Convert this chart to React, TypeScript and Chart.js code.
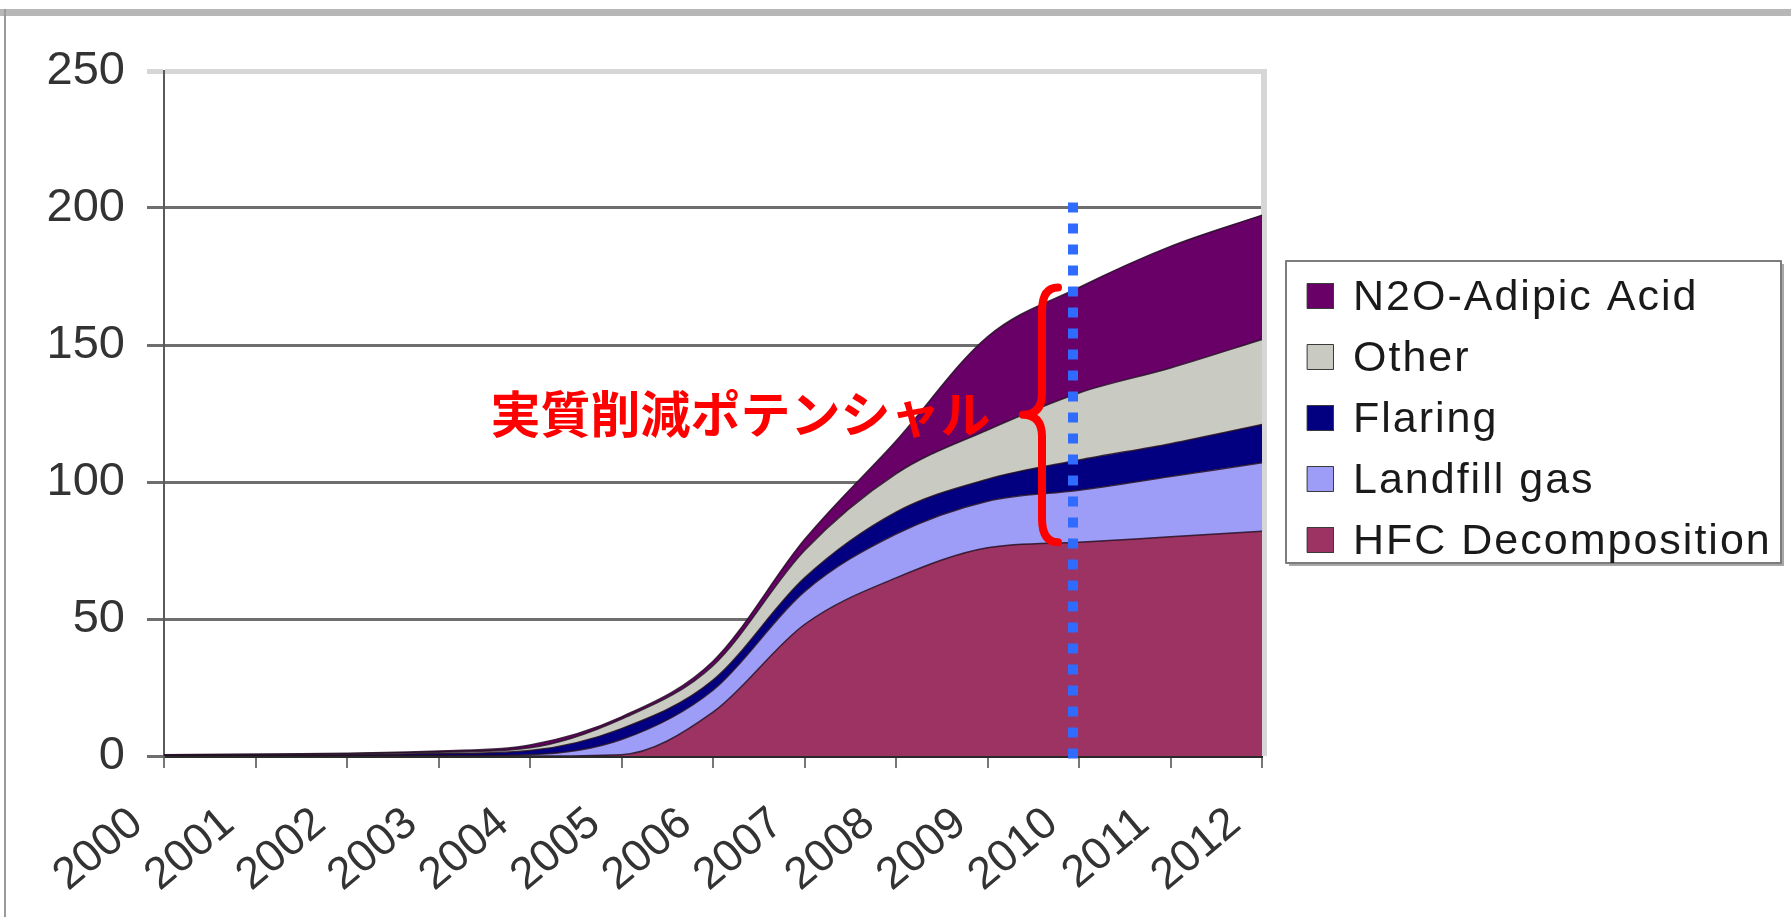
import React, { useEffect, useRef } from "react";
import { Chart, registerables } from "chart.js";

Chart.register(...registerables);

// Emission reduction volumes by project type, stacked from the bottom up.
const years = ["2000", "2001", "2002", "2003", "2004", "2005", "2006", "2007", "2008", "2009", "2010", "2011", "2012"];
const hfcDecomposition = [0, 0, 0, 0, 0, 0.5, 16, 48, 65, 76, 78, 80, 82];
const landfillGas = [0, 0, 0.1, 0.2, 0.5, 5.5, 8, 12, 16, 17, 19, 22, 25];
const flaring = [0.2, 0.3, 0.4, 0.7, 1.5, 4, 3.7, 5, 8, 8, 11, 12, 14];
const other = [0.1, 0.2, 0.3, 0.5, 1, 3.5, 5.3, 10, 14, 18, 24.5, 27.6, 31];
const n2oAdipicAcid = [0.2, 0.2, 0.2, 0.4, 1, 0.8, 1.6, 4, 12, 34, 38.5, 44.4, 45.4];

const seriesLabels = ["HFC Decomposition", "Landfill gas", "Flaring", "Other", "N2O-Adipic Acid"];
const seriesColors = ["#9c3363", "#9d9cf6", "#020080", "#c9cac2", "#680068"];
const seriesValues = [hfcDecomposition, landfillGas, flaring, other, n2oAdipicAcid];

const yMin = 0;
const yMax = 250;
const yStep = 50;

// Annotation: the year marked by the dotted line and the bracketed span
const markerYearIndex = 10;
const markerTopValue = 202;
const potentialLabel = "実質削減ポテンシャル";
const potentialLabelYearIndex = 6.3;
const potentialLabelValue = 125;

const W = 1791;
const H = 917;
const AREA = { left: 164, top: 71, right: 1262, bottom: 756 };
const FONT = '"Liberation Sans", Arial, Helvetica, sans-serif';

const decorPlugin = {
  id: "decor",
  beforeDraw(chart: any) {
    const ctx = chart.ctx;
    ctx.save();
    ctx.fillStyle = "#ffffff";
    ctx.fillRect(0, 0, W, H);
    // chart frame
    ctx.fillStyle = "#b7b7b7";
    ctx.fillRect(0, 9, W, 7);
    ctx.fillStyle = "#9a9a9a";
    ctx.fillRect(4, 9, 2, H - 9);
    ctx.restore();
  },
  beforeDatasetsDraw(chart: any) {
    const ctx = chart.ctx;
    const a = chart.chartArea;
    ctx.save();
    ctx.strokeStyle = "#d6d6d6";
    ctx.lineWidth = 6;
    ctx.beginPath();
    ctx.moveTo(a.right + 2, a.top - 2);
    ctx.lineTo(a.right + 2, a.bottom);
    ctx.stroke();
    ctx.restore();
  },
  afterDatasetsDraw(chart: any) {
    const ctx = chart.ctx;
    const xs = chart.scales.x;
    const ys = chart.scales.y;
    const a = chart.chartArea;
    ctx.save();

    // dotted marker line
    const mx = xs.getPixelForValue(markerYearIndex) - 6;
    ctx.strokeStyle = "#2f6bff";
    ctx.lineWidth = 10;
    ctx.setLineDash([10, 11]);
    ctx.beginPath();
    ctx.moveTo(mx, ys.getPixelForValue(markerTopValue));
    ctx.lineTo(mx, a.bottom + 4);
    ctx.stroke();
    ctx.setLineDash([]);

    // brace spanning everything above HFC decomposition in the marked year
    const total = seriesValues.reduce((s, arr) => s + arr[markerYearIndex], 0);
    const topY = ys.getPixelForValue(total);
    const botY = ys.getPixelForValue(hfcDecomposition[markerYearIndex]);
    const midY = (topY + botY) / 2;
    const bx = xs.getPixelForValue(markerYearIndex) - 37;
    const arm = 16;
    const tip = 19;
    ctx.strokeStyle = "#ff0000";
    ctx.lineWidth = 8;
    ctx.lineCap = "round";
    ctx.lineJoin = "round";
    ctx.beginPath();
    ctx.moveTo(bx + arm, topY);
    ctx.quadraticCurveTo(bx, topY, bx, topY + 24);
    ctx.lineTo(bx, midY - 22);
    ctx.quadraticCurveTo(bx, midY, bx - tip, midY);
    ctx.quadraticCurveTo(bx, midY, bx, midY + 22);
    ctx.lineTo(bx, botY - 24);
    ctx.quadraticCurveTo(bx, botY, bx + arm, botY);
    ctx.stroke();

    // label
    ctx.fillStyle = "#ff0000";
    ctx.font = 'bold 50px "Noto Sans CJK JP", sans-serif';
    ctx.textAlign = "center";
    ctx.textBaseline = "middle";
    ctx.fillText(potentialLabel, xs.getPixelForValue(potentialLabelYearIndex), ys.getPixelForValue(potentialLabelValue));

    // legend
    const lx = 1286, ly = 261, lw = 495, lh = 302;
    ctx.fillStyle = "#a8a8a8";
    ctx.fillRect(lx + lw, ly + 3, 3, lh);
    ctx.fillRect(lx + 3, ly + lh, lw, 3);
    ctx.strokeStyle = "#7c7c7c";
    ctx.lineWidth = 2;
    ctx.strokeRect(lx, ly, lw, lh);
    ctx.font = `43px ${FONT}`;
    ctx.textAlign = "left";
    ctx.textBaseline = "middle";
    (ctx as any).letterSpacing = "2px";
    const ds = chart.data.datasets;
    for (let i = 0; i < ds.length; i++) {
      const d = ds[ds.length - 1 - i];
      const cy = ly + 35 + i * 61;
      ctx.fillStyle = d.backgroundColor;
      ctx.fillRect(lx + 21, cy - 13, 27, 26);
      ctx.strokeStyle = "#3a3a3a";
      ctx.lineWidth = 1;
      ctx.strokeRect(lx + 21.5, cy - 12.5, 26, 25);
      ctx.fillStyle = "#1a1a1a";
      ctx.fillText(d.label, lx + 67, cy + 2);
    }
    (ctx as any).letterSpacing = "0px";
    ctx.restore();
  },
};

export default function App() {
  const ref = useRef<HTMLCanvasElement | null>(null);

  useEffect(() => {
    if (!ref.current) return;
    const datasets = seriesValues.map((values, i) => ({
      label: seriesLabels[i],
      data: values,
      backgroundColor: seriesColors[i],
      borderColor: "rgba(35,15,35,0.85)",
      borderWidth: 1.5,
      fill: i === 0 ? "origin" : "-1",
      pointRadius: 0,
      cubicInterpolationMode: "monotone" as const,
    }));

    const chart = new Chart(ref.current, {
      type: "line",
      data: { labels: years, datasets },
      plugins: [decorPlugin],
      options: {
        animation: false,
        responsive: false,
        devicePixelRatio: 1,
        layout: {
          padding: { top: AREA.top, right: W - AREA.right, left: 0, bottom: 0 },
        },
        plugins: {
          legend: { display: false },
          tooltip: { enabled: false },
          title: { display: false },
        },
        scales: {
          x: {
            offset: false,
            afterFit: (scale: any) => {
              scale.height = H - AREA.bottom;
            },
            grid: {
              drawOnChartArea: false,
              drawTicks: true,
              tickLength: 12,
              color: "#777777",
              lineWidth: 2,
            },
            border: { display: true, color: "#2a2a2a", width: 3 },
            ticks: {
              autoSkip: false,
              minRotation: 40,
              maxRotation: 40,
              padding: 29,
              labelOffset: -27,
              color: "#333333",
              font: { family: FONT, size: 45 },
            },
          },
          y: {
            stacked: true,
            min: yMin,
            max: yMax,
            afterFit: (scale: any) => {
              scale.width = AREA.left;
            },
            grid: {
              drawTicks: true,
              tickLength: 17,
              color: (c: any) => (c.tick && c.tick.value === yMax ? "#d6d6d6" : "#6e6e6e"),
              lineWidth: (c: any) => (c.tick && c.tick.value === yMax ? 5 : 3),
            },
            border: { display: true, color: "#5a5a5a", width: 2 },
            ticks: {
              stepSize: yStep,
              padding: 22,
              color: "#333333",
              font: { family: FONT, size: 47 },
            },
          },
        },
      },
    });
    return () => chart.destroy();
  }, []);

  return (
    <div style={{ position: "absolute", left: 0, top: 0, width: W, height: H, background: "#fff" }}>
      <canvas ref={ref} width={W} height={H} style={{ display: "block", width: W, height: H }} />
    </div>
  );
}
